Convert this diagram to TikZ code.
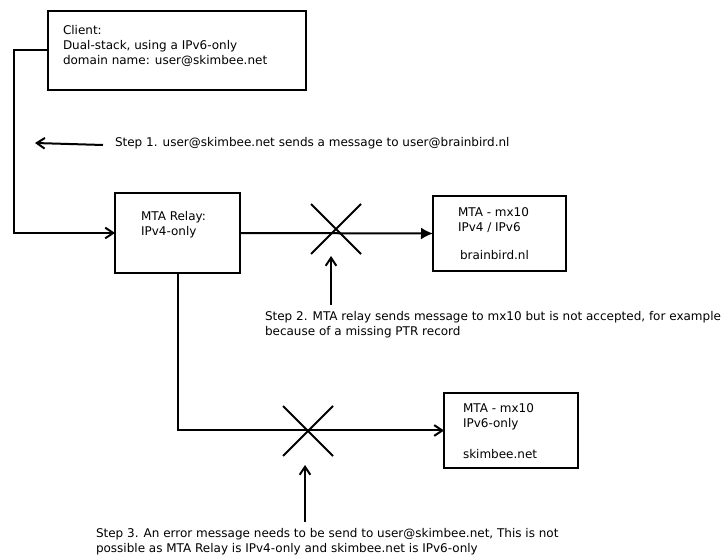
\documentclass[tikz,border=0pt]{standalone}
\usepackage{fontspec}
\setmainfont{DejaVu Sans}
\usetikzlibrary{arrows.meta,shapes.misc}
\begin{document}
\begin{tikzpicture}[x=0.75pt,y=-0.75pt,
  box/.style={draw,line width=1.5pt,inner sep=0,outer sep=0,anchor=north west},
  txt/.style={anchor=north west,inner sep=0,outer sep=0,align=left,font=\fontsize{9}{11.25}\selectfont},
  conn/.style={line width=1.5pt},
  openarrow/.style={conn,-{Straight Barb[length=6pt,width=8pt]}},
  fillarrow/.style={conn,-{Latex[length=9pt,width=9pt]}},
  xmark/.style={cross out,draw,line width=1.5pt,minimum size=37.5pt,inner sep=0,outer sep=0}]
\useasboundingbox (0,0) rectangle (724,555);

% boxes
\node[box,minimum width=193.5pt,minimum height=59.25pt] (client) at (48,11) {};
\node[box,minimum width=93.75pt,minimum height=60pt] (relay) at (115,193) {};
\node[box,minimum width=99.75pt,minimum height=56.25pt] (mxa) at (433,196) {};
\node[box,minimum width=100.5pt,minimum height=56.25pt] (mxb) at (444,393) {};

% box texts
\node[txt] (clienttxt) at (63,25) {Client:\\Dual-stack, using a IPv6-only\\domain name: user@skimbee.net};
\node[txt] (relaytxt) at (141,211) {MTA Relay:\\IPv4-only};
\node[txt] (mxatxt) at (458,208) {MTA - mx10\\IPv4 / IPv6\\[9.75pt]\hspace{1.5pt}brainbird.nl};
\node[txt] (mxbtxt) at (463,404) {MTA - mx10\\IPv6-only\\[12pt]skimbee.net};

% crosses
\node[xmark] (xa) at (336,229) {};
\node[xmark] (xb) at (308,431) {};

% connectors
\coordinate (corner) at (14,51);
\draw[openarrow] (client.west) -- (client.west -| corner) |- (relay.west);
\draw[fillarrow] (relay.east) -- (mxa.west);
\draw[openarrow] (relay.south) |- (mxb.west);

% step arrows and texts
\coordinate (s1a) at (103,145);
\coordinate (s1b) at (35,143);
\draw[openarrow] (s1a) -- (s1b);
\node[txt] (step1) at (115,137) {Step 1. user@skimbee.net sends a message to user@brainbird.nl};

\coordinate (s2a) at (331,305);
\coordinate (s2b) at (331,256);
\draw[openarrow] (s2a) -- (s2b);
\node[txt] (step2) at (265,311) {Step 2. MTA relay sends message to mx10 but is not accepted, for example\\because of a missing PTR record};

\coordinate (s3a) at (305,522);
\coordinate (s3b) at (305,465);
\draw[openarrow] (s3a) -- (s3b);
\node[txt] (step3) at (96,528) {Step 3. An error message needs to be send to user@skimbee.net, This is not\\possible as MTA Relay is IPv4-only and skimbee.net is IPv6-only};
\end{tikzpicture}
\end{document}
